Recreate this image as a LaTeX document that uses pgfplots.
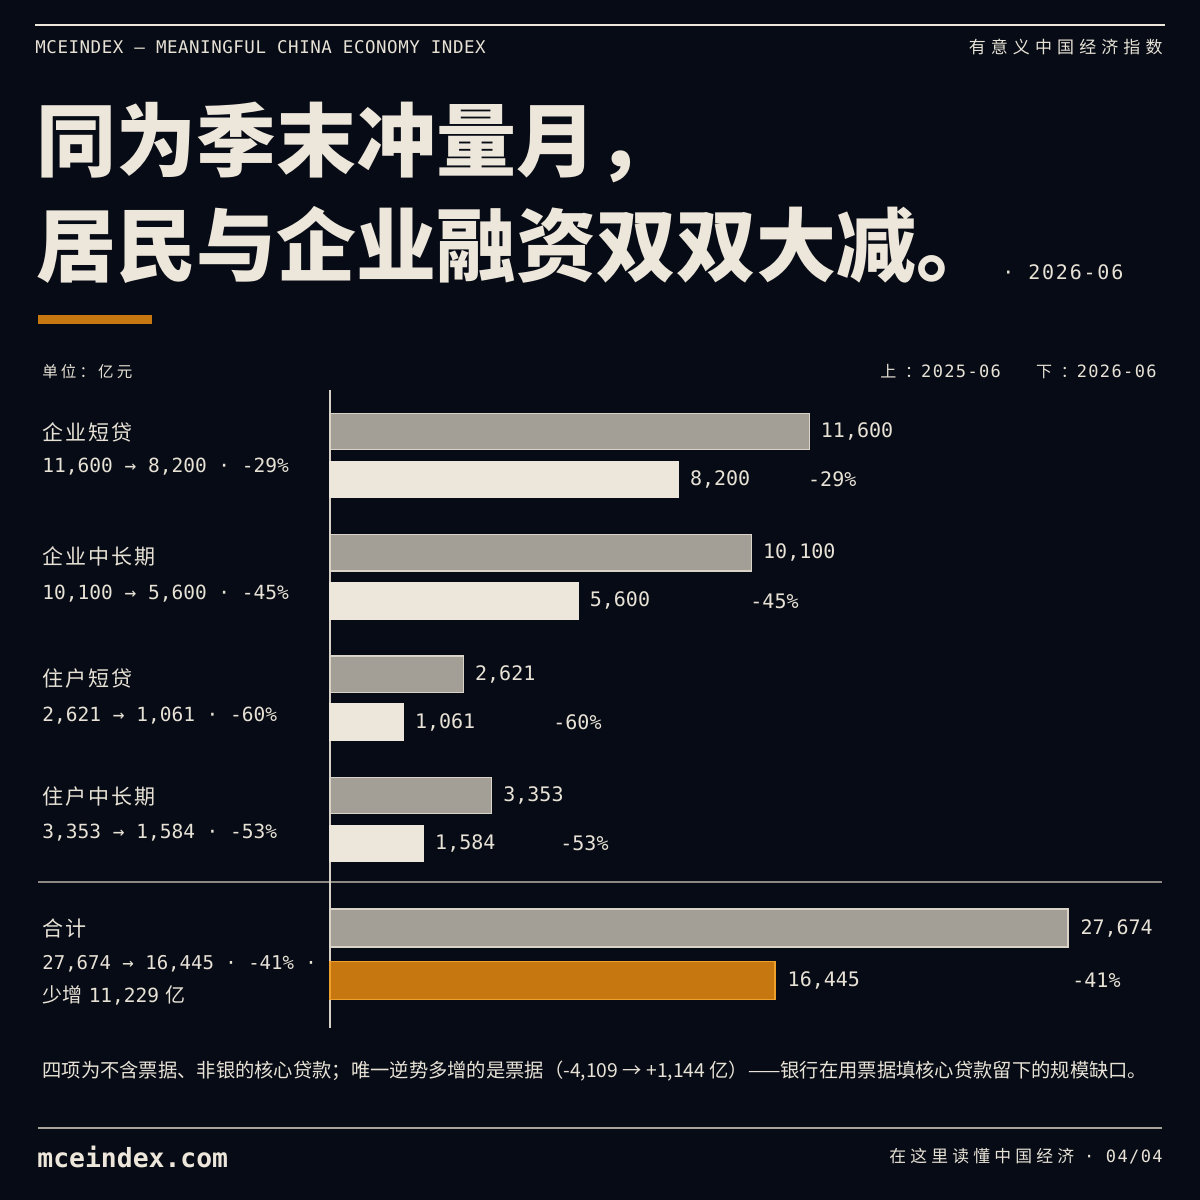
\documentclass[border=0pt]{standalone}
\usepackage{pgfplots}
\pgfplotsset{compat=1.18}
\usepackage{pgfplotstable}
\usepackage{fontspec}
\setmainfont{DejaVu Sans}
\newfontfamily\mono{DejaVu Sans Mono}
\newfontfamily\cjk{Noto Sans CJK SC}

\definecolor{bg}{RGB}{6,11,21}
\definecolor{cream}{RGB}{237,230,218}
\definecolor{txt}{RGB}{232,226,214}
\definecolor{prevfill}{RGB}{163,159,151}
\definecolor{prevdraw}{RGB}{218,212,200}
\definecolor{accent}{RGB}{199,119,16}
\definecolor{accentdraw}{RGB}{238,160,42}
\definecolor{rulegray}{RGB}{140,137,131}

\newcommand\fs[1]{\fontsize{#1}{#1}\selectfont}

\pgfplotstableread{
k v lab
0 11600 11,600
1 10100 10,100
2 2621 2,621
3 3353 3,353
}\prevtab
\pgfplotstableread{
k v lab
0 8200 8,200
1 5600 5,600
2 1061 1,061
3 1584 1,584
}\curtab
\pgfplotstableread{
k v lab
0 27674 27,674
}\prevtot
\pgfplotstableread{
k v lab
0 16445 16,445
}\curtot

\begin{document}
\begin{tikzpicture}[x=0.5pt,y=-0.5pt]
\fill[bg] (0,0) rectangle (1200,1200);
% header
\draw[cream, line width=1pt] (35,25) -- (1165,25);
\node[anchor=west, inner sep=0pt, text=txt, font={\mono\fs{8.75}\addfontfeature{LetterSpace=3}}] at (35,47) {MCEINDEX — MEANINGFUL CHINA ECONOMY INDEX};
\node[anchor=east, inner sep=0pt, text=txt, font={\cjk\fs{8.5}\addfontfeature{LetterSpace=30}}] at (1163,47) {有意义中国经济指数};
% title
\node[anchor=west, inner sep=0pt, text=cream, font={\cjk\bfseries\fs{40}}] at (36,142) {同为季末冲量月，};
\node[anchor=west, inner sep=0pt, text=cream, font={\cjk\bfseries\fs{40}}] at (36,245) {居民与企业融资双双大减。};
\node[anchor=west, inner sep=0pt, text=txt, font={\mono\fs{10}\addfontfeature{LetterSpace=9}}] at (1002,272) {· 2026-06};
\fill[accent] (38,315) rectangle (152,324);
% units / legend line
\node[anchor=west, inner sep=0pt, text=txt, font={\cjk\fs{7.75}\addfontfeature{LetterSpace=20}}] at (42,372) {单位：亿元};
\node[anchor=east, inner sep=0pt, text=txt] at (1157,372) {{\cjk\fs{8}\addfontfeature{LetterSpace=55}上：}{\mono\fs{8.5}\addfontfeature{LetterSpace=8}2025-06}\hspace{17.5pt}{\cjk\fs{8}\addfontfeature{LetterSpace=55}下：}{\mono\fs{8.5}\addfontfeature{LetterSpace=8}2026-06}};
% left labels
\tikzset{catlab/.style={anchor=west, inner sep=0pt, text=txt, font={\cjk\fs{10.5}\addfontfeature{LetterSpace=10}}},
         sublab/.style={anchor=west, inner sep=0pt, text=txt, font={\mono\fs{9.75}}}}
\node[catlab] at (42,432) {企业短贷};
\node[sublab] at (42,467) {11,600 → 8,200 · -29\%};
\node[catlab] at (42,556) {企业中长期};
\node[sublab] at (42,594) {10,100 → 5,600 · -45\%};
\node[catlab] at (42,679) {住户短贷};
\node[sublab] at (42,716) {2,621 → 1,061 · -60\%};
\node[catlab] at (42,797) {住户中长期};
\node[sublab] at (42,833) {3,353 → 1,584 · -53\%};
\node[catlab] at (42,928) {合计};
\node[sublab, font={\mono\fs{9.5}}] at (42,964) {27,674 → 16,445 · -41\% ·};
\node[anchor=west, inner sep=0pt, text=txt] at (42,995) {{\cjk\fs{10}少增} {\mono\fs{9.75}11,229} {\cjk\fs{10}亿}};
% rules
\draw[rulegray, line width=1pt] (38,882) -- (1162,882);
\draw[cream!90!bg, line width=1pt] (330,390) -- (330,1028);

% main axis (bar scale starts slightly before zero, as in the reference)
\begin{axis}[
  at={(165pt,-197.425pt)}, anchor=north west,
  scale only axis, width=415pt, height=242.65pt,
  hide axis, clip=false,
  x filter/.expression={x+847},
  xmin=0, xmax=21553, ymin=-0.5, ymax=3.5, y dir=reverse,
  xbar, bar width=18.25pt,
  nodes near coords, point meta=explicit symbolic,
  every node near coord/.append style={anchor=west, inner sep=0pt, xshift=5.5pt, text=txt, font={\mono\fs{10}}},
]
\addplot[fill=prevfill, draw=prevdraw, line width=0.6pt, bar shift=12pt] table[x=v, y=k, meta=lab] {\prevtab};
\addplot[fill=cream, draw=cream, line width=0.6pt, bar shift=-12pt] table[x=v, y=k, meta=lab] {\curtab};
\tikzset{pct/.style={anchor=west, inner sep=0pt, text=txt, font={\mono\fs{10}}}}
\node[pct] at (axis cs:12407,0.198) {-29\%};
\node[pct] at (axis cs:10907,1.198) {-45\%};
\node[pct] at (axis cs:5791,2.198) {-60\%};
\node[pct] at (axis cs:5972,3.198) {-53\%};
\end{axis}

% total axis
\begin{axis}[
  at={(165pt,-452.125pt)}, anchor=north west,
  scale only axis, width=415pt, height=50pt,
  hide axis, clip=false,
  x filter/.expression={x+609},
  xmin=0, xmax=31813, ymin=-0.5, ymax=0.5, y dir=reverse,
  xbar, bar width=19pt,
  nodes near coords, point meta=explicit symbolic,
  every node near coord/.append style={anchor=west, inner sep=0pt, xshift=6pt, text=txt, font={\mono\fs{10}}},
]
\addplot[fill=prevfill, draw=prevdraw, line width=0.6pt, bar shift=13.125pt] table[x=v, y=k, meta=lab] {\prevtot};
\addplot[fill=accent, draw=accentdraw, line width=0.8pt, bar shift=-13.125pt] table[x=v, y=k, meta=lab] {\curtot};
\node[anchor=west, inner sep=0pt, text=txt, font={\mono\fs{10}}] at (axis cs:28440,0.2625) {-41\%};
\end{axis}

% footnote & footer
\node[anchor=west, inner sep=0pt, text=txt, font={\cjk\fs{9.65}}] at (42,1071) {四项为不含票据、非银的核心贷款；唯一逆势多增的是票据（-4,109 → +1,144 亿）——银行在用票据填核心贷款留下的规模缺口。};
\draw[rulegray!70!cream, line width=1pt] (38,1128) -- (1162,1128);
\node[anchor=west, inner sep=0pt, text=cream, font={\mono\bfseries\fs{13.2}}] at (37,1157) {mceindex.com};
\node[anchor=east, inner sep=0pt, text=txt] at (1163,1156) {{\cjk\fs{8.4}\addfontfeature{LetterSpace=25}在这里读懂中国经济}\hspace{5pt}{\mono\fs{8.5}\addfontfeature{LetterSpace=8}· 04/04}};
\end{tikzpicture}
\end{document}
